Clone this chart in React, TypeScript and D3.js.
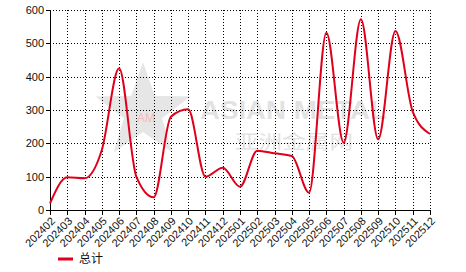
import React from "react";
import * as d3 from "d3";

const categories = ["202402","202403","202404","202405","202406","202407","202408","202409","202410","202411","202412","202501","202502","202503","202504","202505","202506","202507","202508","202509","202510","202511","202512"];
const totals = [20, 98, 95, 180, 425, 100, 38, 280, 302, 100, 127, 70, 178, 170, 162, 52, 532, 202, 572, 212, 537, 295, 228];
const yTicks = [0, 100, 200, 300, 400, 500, 600];
const seriesName = "总计";

const W = 466, H = 272;
const M = { left: 50, right: 36, top: 10, bottom: 62 };

export default function App() {
  const x = d3.scalePoint<string>().domain(categories).range([M.left, W - M.right]);
  const y = d3.scaleLinear().domain([0, 600]).range([H - M.bottom, M.top]);
  const line = d3.line<number>()
    .x((_, i) => x(categories[i]) as number)
    .y((d) => y(d))
    .curve(d3.curveMonotoneX);
  const x0 = M.left, x1 = W - M.right, y0 = H - M.bottom, y1 = M.top;

  const cx = 143, cy = 112, R = 50, r = 20;
  const starPts = d3.range(10).map((i) => {
    const a = -Math.PI / 2 + (i * Math.PI) / 5;
    const rr = i % 2 === 0 ? R : r;
    return [cx + rr * Math.cos(a), cy + rr * Math.sin(a)].join(",");
  }).join(" ");

  return (
    <svg width={W} height={H} style={{ position: "absolute", left: 0, top: 0, background: "#fff" }}
      fontFamily="'Liberation Sans', Arial, sans-serif">
      {/* watermark */}
      <g>
        <polygon points={starPts} fill="#e6e6e6" />
        <text x={146} y={122} fontSize={12} fill="#f6b8b8" textAnchor="middle">AM</text>
        <text x={200} y={119} fontSize={26} fontWeight="bold" fill="#e2e2e2" textLength={187} lengthAdjust="spacingAndGlyphs">ASIAN METAL</text>
        <text x={235} y={149} fontSize={19} fill="#e2e2e2" textLength={118} lengthAdjust="spacingAndGlyphs" fontFamily="'Noto Sans CJK SC', sans-serif">亚洲金属网</text>
      </g>
      {/* grid */}
      <g stroke="#000" strokeWidth={1} strokeDasharray="1,2" shapeRendering="crispEdges">
        {yTicks.filter((t) => t > 0).map((t) => (
          <line key={"h" + t} x1={x0} x2={x1} y1={Math.round(y(t)) + 0.5} y2={Math.round(y(t)) + 0.5} />
        ))}
        {categories.slice(1).map((c) => (
          <line key={"v" + c} x1={Math.round(x(c) as number) + 0.5} x2={Math.round(x(c) as number) + 0.5} y1={y1} y2={y0} />
        ))}
      </g>
      {/* axes */}
      <g shapeRendering="crispEdges" stroke="#000">
        <line x1={x0 + 0.5} x2={x0 + 0.5} y1={y1} y2={y0 + 5} />
        <line x1={x0} x2={x1 + 1} y1={y0 + 0.5} y2={y0 + 0.5} />
        {yTicks.map((t) => (
          <line key={"yt" + t} x1={x0 - 4} x2={x0} y1={Math.round(y(t)) + 0.5} y2={Math.round(y(t)) + 0.5} />
        ))}
        {categories.map((c) => (
          <line key={"xt" + c} x1={Math.round(x(c) as number) + 0.5} x2={Math.round(x(c) as number) + 0.5} y1={y0} y2={y0 + 5} />
        ))}
      </g>
      {yTicks.map((t) => (
        <text key={"yl" + t} x={x0 - 6} y={y(t)} dy="0.35em" textAnchor="end" fontSize={11} fill="#111">{t}</text>
      ))}
      {categories.map((c) => (
        <text key={"xl" + c} transform={`translate(${(x(c) as number) + 3},${y0 + 9}) rotate(-45)`}
          textAnchor="end" fontSize={11} fill="#111" dy="0.35em">{c}</text>
      ))}
      {/* series */}
      <path d={line(totals) || ""} fill="none" stroke="#e0001b" strokeWidth={2} strokeLinejoin="round" />
      {/* legend */}
      <line x1={58} x2={73} y1={259} y2={259} stroke="#e0001b" strokeWidth={3} />
      <text x={79} y={259} dy="0.35em" fontSize={12} fill="#111" fontFamily="'Noto Sans CJK SC', sans-serif">{seriesName}</text>
    </svg>
  );
}
